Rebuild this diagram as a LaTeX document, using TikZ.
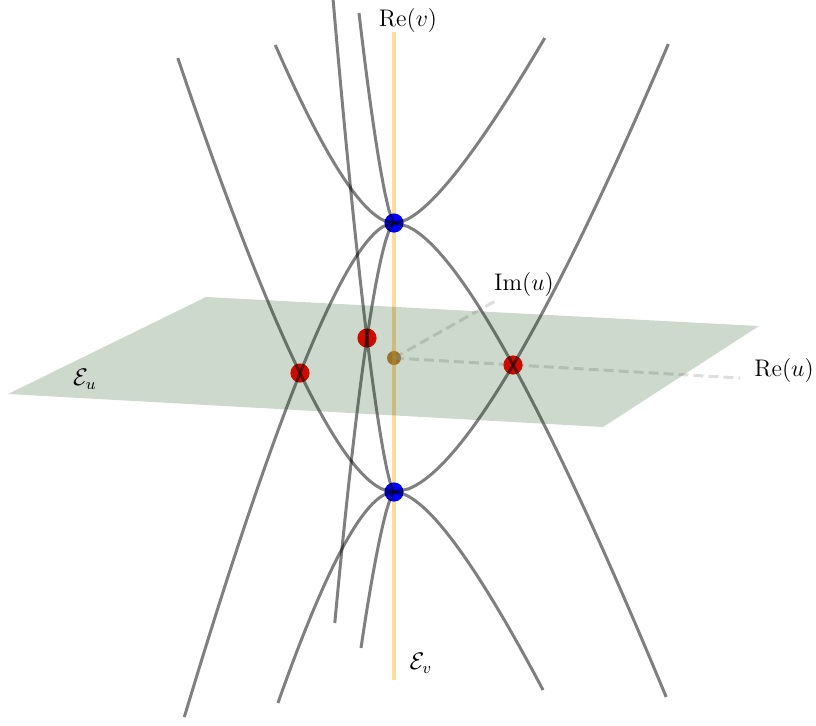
\documentclass[tikz,border=0pt]{standalone}
\usepackage{amsmath}
\definecolor{lineorange}{RGB}{255,165,0}
\definecolor{axisgray}{gray}{0.63}
\begin{document}
\begin{tikzpicture}[x=0.5pt,y=-0.5pt,
  curve/.style={draw=black, draw opacity=0.5, line width=1.5pt},
  axisdash/.style={draw=axisgray, draw opacity=0.35, line width=1.5pt, dash pattern=on 5pt off 2.5pt},
  vaxis/.style={draw=lineorange, draw opacity=0.4, line width=1.8pt},
  plane/.style={fill=green!25!black, fill opacity=0.2},
  bluedot/.style={circle, fill=blue, inner sep=0pt, minimum size=9.6pt},
  reddot/.style={circle, fill=red, inner sep=0pt, minimum size=9.6pt},
  origdot/.style={circle, fill=brown, inner sep=0pt, minimum size=7pt},
  lbl/.style={font=\fontsize{12}{14}\selectfont, inner sep=0pt}]
\useasboundingbox (0,0) rectangle (816,725);

% named points
\coordinate (ImEnd) at (497,300);
\coordinate (ReEnd) at (740,378);
\coordinate (Vtop) at (394,32);
\coordinate (Vbot) at (394,680);
\coordinate (P1) at (206,297);
\coordinate (P2) at (759,326);
\coordinate (P3) at (603,427);
\coordinate (P4) at (8,394);

% origin dot and axes
\node[origdot] (O) at (394,358) {};
\draw[axisdash] (O.center) -- (ImEnd);
\draw[axisdash] (O.center) -- (ReEnd);

% vertical axis
\draw[vaxis] (Vtop) -- (Vbot);

% dots
\node[bluedot] (BT) at (394,223) {};
\node[bluedot] (BB) at (394,492) {};
\node[reddot] (RL) at (300,373) {};
\node[reddot] (RM) at (367,338) {};
\node[reddot] (RR) at (513,365) {};

% arms from the upper blue point
\draw[curve] plot[domain=0:178, samples=90, variable=\t] ({394-(0.209*\t+6.11*sqrt(\t))}, {223-\t});
\draw[curve] plot[domain=0:185, samples=90, variable=\t] ({394+(0.362*\t+6.16*sqrt(\t))}, {223-\t});
\draw[curve] plot[domain=0:494, samples=140, variable=\t] ({394-(0.177*\t+5.5*sqrt(\t))}, {223+\t});
\draw[curve] plot[domain=0:474, samples=140, variable=\t] ({394+(0.255*\t+6.95*sqrt(\t))}, {223+\t});
% arms from the lower blue point
\draw[curve] plot[domain=0:434, samples=140, variable=\t] ({394-(0.177*\t+6.69*sqrt(\t))}, {492-\t});
\draw[curve] plot[domain=0:448, samples=140, variable=\t] ({394+(0.242*\t+7.84*sqrt(\t))}, {492-\t});
\draw[curve] plot[domain=0:211, samples=90, variable=\t] ({394-(0.157*\t+5.71*sqrt(\t))}, {492+\t});
\draw[curve] plot[domain=0:198, samples=90, variable=\t] ({394+(0.305*\t+6.3*sqrt(\t))}, {492+\t});

% thin near-vertical curves
\draw[curve] plot[domain=0:491.9, samples=90, variable=\t] ({394-27*((492-\t)/154)^0.7}, \t)
  -- plot[domain=492.1:648, samples=40, variable=\t] ({394-33*((\t-492)/156)^0.7}, \t);
\draw[curve] plot[domain=13:222.9, samples=60, variable=\t] ({394-35*((223-\t)/210)^0.7}, \t)
  -- plot[domain=223.1:623, samples=90, variable=\t] ({394-27*((\t-223)/115)^0.63}, \t);

% plane
\path[plane] (P1) -- (P2) -- (P3) -- (P4) -- cycle;

% labels
\node[lbl] (rev) at (408,20) {$\mathrm{Re}(v)$};
\node[lbl] (imu) at (524,284) {$\mathrm{Im}(u)$};
\node[lbl] (reu) at (784,370) {$\mathrm{Re}(u)$};
\node[lbl] (eu) at (85,379) {$\mathcal{E}_u$};
\node[lbl] (ev) at (421,663) {$\mathcal{E}_v$};
\end{tikzpicture}
\end{document}
